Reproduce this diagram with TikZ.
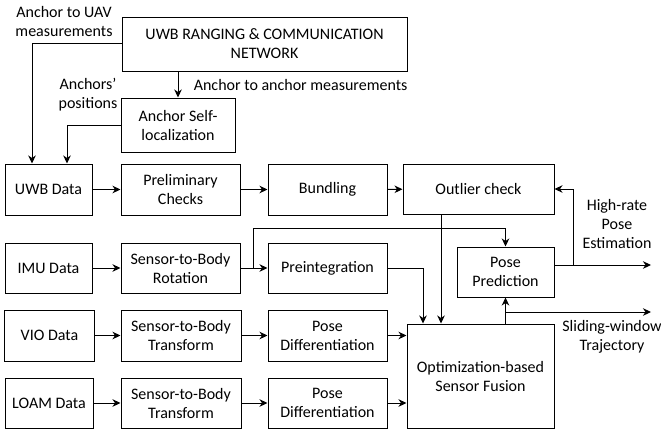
\documentclass[tikz,border=0pt]{standalone}
\usepackage{fontspec}
\setmainfont{Carlito}
\usetikzlibrary{arrows.meta, positioning}
\tikzstyle{every node}=[font=\fontsize{16}{19}\selectfont]
\tikzstyle{block} = [rectangle, minimum width=119pt, minimum height=51pt, align=center, draw=black, line width=1pt, inner sep=2pt]
\tikzstyle{datablock} = [block, minimum width=87pt]
\tikzstyle{arrow} = [line width=1pt, -{Stealth[length=8pt, width=7.5pt, inset=2.5pt]}]
\tikzstyle{lbl} = [align=center, inner sep=0pt]

\begin{document}
\begin{tikzpicture}[x=1pt, y=-1pt]
        \useasboundingbox (0,0) rectangle (661,432);
        % anchor network
        \node (net) [block, minimum width=285pt, minimum height=54pt] at (264.5,44) {UWB RANGING \& COMMUNICATION\\NETWORK};
        \node (self) [block, minimum width=114pt, minimum height=54pt] at (178,125) {Anchor Self-\\localization};
          \node [lbl] at (64,21) {Anchor to UAV\\measurements};
          \node [lbl] at (88,95) {Anchors'\\positions};

        % sensor rows
        \node (uwb) [datablock] at (48.5,189.5) {UWB Data};
        \node (pre) [block] at (180.5,189.5) {Preliminary\\Checks};
        \node (bund) [block] at (327.5,189.5) {Bundling};
        \node (outl) [block, minimum width=151pt, minimum height=50pt] at (478.5,189) {Outlier check};

        \node (imu) [datablock, minimum height=50pt] at (48.5,268) {IMU Data};
        \node (rot) [block, minimum height=50pt] at (180.5,268) {Sensor-to-Body\\Rotation};
        \node (preint) [block, minimum height=50pt] at (327.5,268) {Preintegration};

        \node (vio) [datablock, minimum width=90pt] at (49.5,335.5) {VIO Data};
        \node (vtf) [block, minimum width=120pt] at (181,335.5) {Sensor-to-Body\\Transform};
        \node (vpd) [block] at (327.5,335.5) {Pose\\Differentiation};

        \node (loam) [datablock, minimum width=88pt, minimum height=50pt] at (49,403) {LOAM Data};
        \node (ltf) [block, minimum width=120pt, minimum height=50pt] at (181,403) {Sensor-to-Body\\Transform};
        \node (lpd) [block, minimum height=50pt] at (327.5,403) {Pose\\Differentiation};

        % fusion and prediction
        \node (opt) [block, minimum width=147pt, minimum height=104pt] at (480.5,376) {Optimization-based\\Sensor Fusion};
        \node (pred) [block, minimum width=97pt, minimum height=50pt] at (505.5,272) {Pose\\Prediction};

        \coordinate (hr) at (651,265);
        \coordinate (sw) at (651,312);
          \node [lbl] at (617,224) {High-rate\\Pose\\Estimation};
          \node [lbl] at (612,337) {Sliding-window\\Trajectory};

        \draw [arrow] (net.south -| self.north) -- node [right=12pt] {Anchor to anchor measurements} (self.north);
        \draw [arrow] ([yshift=1pt]net.west) -| ([xshift=-16.5pt]uwb.north);
        \draw [arrow] (self.west) -| ([xshift=18.5pt]uwb.north);

        \draw [arrow] (uwb) -- (pre);
        \draw [arrow] (pre) -- (bund);
        \draw [arrow] (bund) -- (outl);
        \draw [arrow] (imu) -- (rot);
        \draw [arrow] (rot) -- (preint);
        \draw [arrow] (vio) -- (vtf);
        \draw [arrow] (vtf) -- (vpd);
        \draw [arrow] (loam) -- (ltf);
        \draw [arrow] (ltf) -- (lpd);
        \draw [arrow] (vpd.east) -- (vpd.east -| opt.west);
        \draw [arrow] (lpd.east) -- (lpd.east -| opt.west);

        \draw [arrow] (preint.east) -| ([xshift=-57.5pt]opt.north);
        \draw [arrow] ([xshift=-37.5pt]outl.south) -- ([xshift=-37.5pt]outl.south |- opt.north);
        \draw [arrow] (rot.east) -- ++(13,0) |- ([yshift=18pt]pred.north) -- (pred.north);

        \draw [arrow] (pred.south |- opt.north) -- (pred.south);
        \draw [arrow] (pred.south |- sw) -- (sw);
        \draw [arrow] (pred.east |- hr) -- (hr);
        \draw [arrow] ([xshift=19pt]pred.east |- hr) |- (outl.east);
      \end{tikzpicture}
\end{document}
